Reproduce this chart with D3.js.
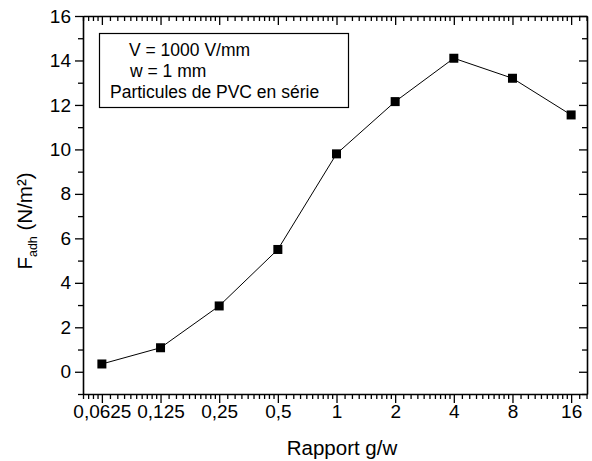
<!DOCTYPE html>
<html>
<head>
<meta charset="utf-8">
<script src="https://cdn.jsdelivr.net/npm/d3@7"></script>
<style>
  body { margin: 0; background: #fff; }
  svg { font-family: "Liberation Sans", Arial, sans-serif; }
  .tick text { font-size: 19px; fill: #000; }
  .axis path, .axis line { stroke: #000; }
</style>
</head>
<body>
<svg width="592" height="461"></svg>
<script>
// data
const ratios = [0.0625, 0.125, 0.25, 0.5, 1, 2, 4, 8, 16];
const ratioLabels = ['0,0625', '0,125', '0,25', '0,5', '1', '2', '4', '8', '16'];
const force = [0.35, 1.08, 2.96, 5.5, 9.8, 12.15, 14.1, 13.2, 11.55];
const yTicks = [0, 2, 4, 6, 8, 10, 12, 14, 16];
const legendLines = ['V = 1000 V/mm', 'w = 1 mm', 'Particules de PVC en série'];

const svg = d3.select('svg');
const width = +svg.attr('width');
const height = +svg.attr('height');
const margin = {top: 16, right: 5, bottom: 67, left: 83};
const innerWidth = width - margin.left - margin.right;
const innerHeight = height - margin.top - margin.bottom;

const xScale = d3.scaleLog().base(2)
  .domain([0.05, 19.3])
  .range([0, innerWidth]);

const yScale = d3.scaleLinear()
  .domain([-1, 16])
  .range([innerHeight, 0]);

// minor ticks: 9 per octave, linear in value
const xMinor = [];
for (let k = -6; k <= 4; k++) {
  const base = Math.pow(2, k);
  for (let i = 1; i <= 9; i++) {
    const v = base * (1 + i / 10);
    if (v >= 0.05 && v <= 19.3) xMinor.push(v);
  }
}
const yMinor = d3.range(-1, 16, 2);

const g = svg.append('g')
  .attr('transform', `translate(${margin.left},${margin.top})`);

const fmt = d => ratioLabels[ratios.indexOf(d)];

// bottom axis
g.append('g').attr('class', 'axis')
  .attr('transform', `translate(0,${innerHeight})`)
  .call(d3.axisBottom(xScale).tickValues(ratios).tickFormat(fmt).tickSize(9).tickPadding(2).tickSizeOuter(0));
g.append('g').attr('class', 'axis')
  .attr('transform', `translate(0,${innerHeight})`)
  .call(d3.axisBottom(xScale).tickValues(xMinor).tickFormat('').tickSize(5).tickSizeOuter(0))
  .select('.domain').remove();

// top axis (ticks inward)
g.append('g').attr('class', 'axis')
  .call(d3.axisBottom(xScale).tickValues(ratios).tickFormat('').tickSize(9).tickSizeOuter(0));
g.append('g').attr('class', 'axis')
  .call(d3.axisBottom(xScale).tickValues(xMinor).tickFormat('').tickSize(5).tickSizeOuter(0))
  .select('.domain').remove();

// left axis
g.append('g').attr('class', 'axis')
  .call(d3.axisLeft(yScale).tickValues(yTicks).tickSize(8).tickPadding(4).tickSizeOuter(0));
g.append('g').attr('class', 'axis')
  .call(d3.axisLeft(yScale).tickValues(yMinor).tickFormat('').tickSize(5).tickSizeOuter(0))
  .select('.domain').remove();

// right axis (ticks inward)
g.append('g').attr('class', 'axis')
  .attr('transform', `translate(${innerWidth},0)`)
  .call(d3.axisLeft(yScale).tickValues(yTicks).tickFormat('').tickSize(8).tickSizeOuter(0));
g.append('g').attr('class', 'axis')
  .attr('transform', `translate(${innerWidth},0)`)
  .call(d3.axisLeft(yScale).tickValues(yMinor).tickFormat('').tickSize(5).tickSizeOuter(0))
  .select('.domain').remove();

g.selectAll('.axis .domain').attr('stroke-width', 1.6);
g.selectAll('.axis .tick line').attr('stroke-width', 1.3);

// line + markers
const points = ratios.map((r, i) => ({x: r, y: force[i]}));
g.append('path')
  .datum(points)
  .attr('fill', 'none')
  .attr('stroke', '#000')
  .attr('stroke-width', 1)
  .attr('d', d3.line().x(d => xScale(d.x)).y(d => yScale(d.y)));

const s = 9;
g.selectAll('rect.pt').data(points)
  .enter().append('rect')
    .attr('class', 'pt')
    .attr('x', d => xScale(d.x) - s / 2)
    .attr('y', d => yScale(d.y) - s / 2)
    .attr('width', s)
    .attr('height', s)
    .attr('fill', '#000');

// legend box
svg.append('rect')
  .attr('x', 99.5).attr('y', 33.5)
  .attr('width', 249).attr('height', 74)
  .attr('fill', '#fff')
  .attr('stroke', '#000')
  .attr('stroke-width', 1.2);
const legendX = [129, 130, 110];
const legendY = [56, 77, 98];
svg.selectAll('text.leg').data(legendLines)
  .enter().append('text')
    .attr('class', 'leg')
    .attr('x', (d, i) => legendX[i])
    .attr('y', (d, i) => legendY[i])
    .attr('font-size', 17.5)
    .attr('fill', '#000')
    .text(d => d);

// axis titles
svg.append('text')
  .attr('x', 342)
  .attr('y', 455)
  .attr('text-anchor', 'middle')
  .attr('font-size', 20.5)
  .text('Rapport g/w');

const yt = svg.append('text')
  .attr('transform', 'translate(32,221) rotate(-90)')
  .attr('text-anchor', 'middle')
  .attr('font-size', 20.5);
yt.append('tspan').text('F');
yt.append('tspan').attr('font-size', 12.5).attr('dy', 5).text('adh');
yt.append('tspan').attr('dy', -5).text(' (N/m²)');
</script>
</body>
</html>
